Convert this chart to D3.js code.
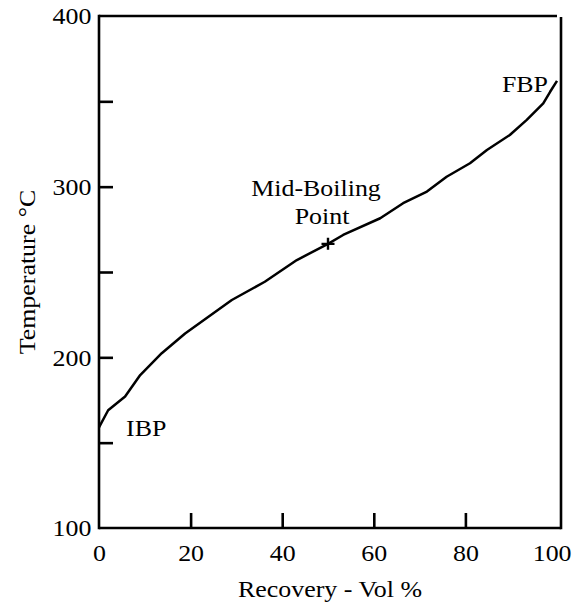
<!DOCTYPE html>
<html>
<head>
<meta charset="utf-8">
<script src="https://cdn.jsdelivr.net/npm/d3@7"></script>
<style>
  html, body { margin: 0; padding: 0; background: #fff; }
  svg { display: block; }
  text { font-family: "Liberation Serif", "Times New Roman", serif; fill: #000; }
</style>
</head>
<body>
<svg id="chart" width="574" height="611"></svg>
<script>
// Distillation curve: recovered volume (%) vs. temperature (°C)
const recovery = [0, 2, 5.7, 9, 13.7, 18.8, 23.9, 29, 36.2, 43.2, 50, 53.3, 61.4, 66.4, 71.6, 75.9, 81, 84.7, 89.7, 93.4, 97, 98.5, 100];
const temperature = [159, 169, 177, 189.6, 202.4, 214, 223.8, 233.6, 244.3, 257, 266.5, 271.7, 281.5, 290.3, 297.1, 305.8, 313.7, 321.5, 330.3, 339.1, 348.8, 355.6, 362];

const xTicks = [0, 20, 40, 60, 80, 100];
const yTicks = [100, 150, 200, 250, 300, 350, 400];

// Annotated points on the curve
const midBoiling = { recovery: 50, temperature: 266.5 };
const ibpLabel = { recovery: 0, temperature: 159, text: "IBP" };
const fbpLabel = { recovery: 100, temperature: 362, text: "FBP" };

const xTitle = "Recovery - Vol %";
const yTitle = "Temperature °C";

const svg = d3.select("#chart");
const fontSize = 24;
const wide = "scale(1.08,1)"; // slightly widened serif lettering

const x = d3.scaleLinear().domain([0, 100]).range([99, 557]);
const y = d3.scaleLinear().domain([100, 400]).range([528, 16]);

// Frame
const frame = svg.append("g").attr("stroke", "#000").attr("stroke-width", 2.6).attr("fill", "none");
frame.append("line").attr("x1", x(0)).attr("x2", x(0)).attr("y1", y(100) + 1.3).attr("y2", y(400) - 1.3);
frame.append("line").attr("x1", x(0)).attr("x2", x(100) + 4).attr("y1", y(100)).attr("y2", y(100));
frame.append("line").attr("x1", x(0)).attr("x2", x(100)).attr("y1", y(400)).attr("y2", y(400));
frame.append("line").attr("x1", x(100) + 4).attr("x2", x(100) + 4).attr("y1", y(400) + 1).attr("y2", y(100) + 1.3);

// Axes with inward ticks
const xAxis = d3.axisBottom(x)
  .tickValues(xTicks)
  .tickSizeInner(-15)
  .tickSizeOuter(0)
  .tickPadding(16)
  .tickFormat(d => d);
const gx = svg.append("g").attr("transform", `translate(0,${y(100)})`).call(xAxis);

const yAxis = d3.axisLeft(y)
  .tickValues(yTicks)
  .tickSizeInner(-14)
  .tickSizeOuter(0)
  .tickPadding(7)
  .tickFormat(d => (d % 100 === 0 ? d : ""));
const gy = svg.append("g").attr("transform", `translate(${x(0)},0)`).call(yAxis);

[gx, gy].forEach(g => {
  g.select(".domain").remove();
  g.selectAll(".tick line").attr("stroke", "#000").attr("stroke-width", 2.6);
  g.selectAll(".tick text")
    .attr("font-family", "Liberation Serif, Times New Roman, serif")
    .attr("font-size", fontSize)
    .attr("fill", "#000")
    .attr("transform", wide);
});
// keep the last x label inside the page
gx.selectAll(".tick").filter(d => d === 100).select("text").attr("dx", -5);
// no tick marks where they would sit on the frame
gx.selectAll(".tick").filter(d => d === 0 || d === 100).select("line").remove();
gy.selectAll(".tick").filter(d => d === 100 || d === 400).select("line").remove();

// Curve
const data = recovery.map((r, i) => ({ r, t: temperature[i] }));
const line = d3.line().x(d => x(d.r)).y(d => y(d.t)).curve(d3.curveLinear);
svg.append("path")
  .datum(data)
  .attr("d", line)
  .attr("fill", "none")
  .attr("stroke", "#000")
  .attr("stroke-width", 2.5)
  .attr("stroke-linejoin", "round");

// Mid-boiling point marker
const mx = x(midBoiling.recovery), my = y(midBoiling.temperature);
svg.append("path")
  .attr("d", `M${mx - 6.5},${my}H${mx + 6.5}M${mx},${my - 6}V${my + 6}`)
  .attr("stroke", "#000")
  .attr("stroke-width", 2.4);

// text placed at (px, py) with the widened lettering
function label(px, py, anchor, str) {
  return svg.append("text")
    .attr("transform", `translate(${px},${py}) ${wide}`)
    .attr("text-anchor", anchor)
    .attr("font-size", fontSize)
    .text(str);
}

label(mx - 12, my - 48, "middle", "Mid-Boiling");
label(mx - 6, my - 20, "middle", "Point");

// IBP / FBP labels
label(x(ibpLabel.recovery) + 27, y(ibpLabel.temperature) + 9, "start", ibpLabel.text);
label(x(fbpLabel.recovery) - 9, y(fbpLabel.temperature) + 11, "end", fbpLabel.text);

// Axis titles
label((x(0) + x(100) + 4) / 2, 597, "middle", xTitle);
svg.append("text")
  .attr("transform", `translate(35,${272}) rotate(-90) ${wide}`)
  .attr("text-anchor", "middle")
  .attr("font-size", fontSize)
  .text(yTitle);
</script>
</body>
</html>
